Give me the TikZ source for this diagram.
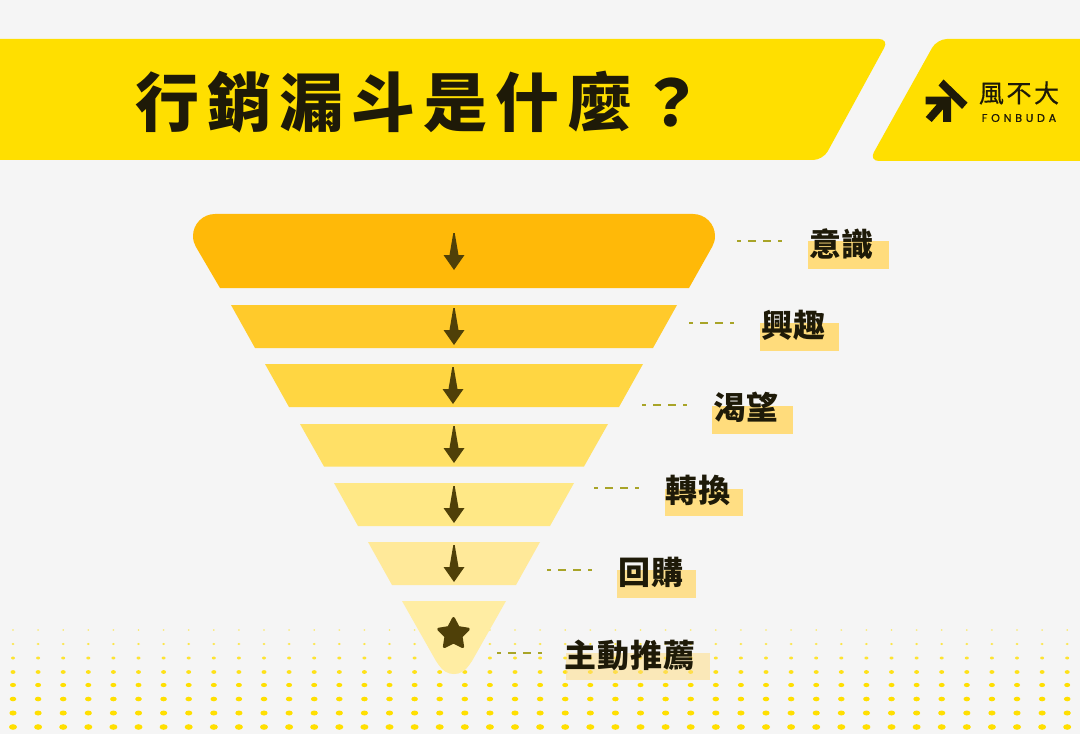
\documentclass[tikz,border=0pt]{standalone}
\usepackage{fontspec}
\usetikzlibrary{shapes.geometric}
\setmainfont{Noto Sans CJK TC}
\newfontfamily\titlefont[LetterSpace=12.5]{Noto Sans CJK TC}
\newfontfamily\labelfont[LetterSpace=3]{Noto Sans CJK TC}
\newfontfamily\logofont[LetterSpace=10,FakeBold=0.4]{Noto Sans CJK TC}
\newfontfamily\latinfont[LetterSpace=33,FakeBold=0.5]{Poppins}
\definecolor{bgc}{HTML}{F5F5F5}
\definecolor{yel}{HTML}{FFDF00}
\definecolor{ink}{HTML}{1E1A08}
\definecolor{arrowc}{HTML}{4F4008}
\definecolor{dashc}{HTML}{A8A428}
\definecolor{hl}{HTML}{FFDC7C}
\definecolor{fa}{HTML}{FFB908}
\definecolor{fb}{HTML}{FFCA2B}
\definecolor{fc}{HTML}{FFD642}
\definecolor{fd}{HTML}{FFE066}
\definecolor{fe}{HTML}{FFE886}
\definecolor{ff}{HTML}{FFE999}
\definecolor{fg}{HTML}{FFEDA3}
\tikzset{
  x=0.75pt,y=-0.75pt,
  lab/.style={font=\labelfont\bfseries\fontsize{24}{24}\selectfont,text=ink,inner sep=0pt,anchor=center},
  lead/.style={draw=dashc,line width=1.3pt,dash pattern=on 6pt off 5.25pt,dash phase=3pt},
  funnelarrow/.pic={\fill[arrowc] (-0.7,0) -- (0.7,0) -- (4.5,22) -- (10.5,22) -- (0,37) -- (-10.5,22) -- (-4.5,22) -- cycle;}
}
\begin{document}
\begin{tikzpicture}
\useasboundingbox (0,0) rectangle (1080,734);
\fill[bgc] (0,0) rectangle (1080,734);
% dot field
\foreach \yy/\rx/\ry/\op in {630/1/0.8/0.6,644/1.5/1.1/0.7,658/2/1.5/0.8,672/2.5/1.9/0.9,685/3/2.1/1,699/3.3/2.3/1,713/3.6/2.5/1,727/4/2.8/1}{
  \foreach \k in {0,...,42}{
    \fill[yel,opacity=\op] ({13+25.1*\k},\yy) ellipse [x radius=\rx*0.75pt,y radius=\ry*0.75pt];
  }
}
% header
\fill[yel,rounded corners=7.5pt] (-30,39) -- (889,39) -- (823,160) -- (-30,160) -- cycle;
\fill[yel,rounded corners=7.5pt] (937,39) -- (1110,39) -- (1110,161) -- (869,161) -- cycle;
\node[font=\titlefont\bfseries\fontsize{48}{50}\selectfont,text=ink,inner sep=0pt] (title) at (419.5,102) {行銷漏斗是什麼？};
% logo
\fill[ink] (943.5,79.5) -- (967.5,102.7) -- (962,109) -- (938.5,85.5) -- cycle;
\fill[ink] (925.7,96.7) -- (951,96.7) -- (951,122) -- (943,122) -- (943,109.3) -- (931.7,122) -- (925.7,117) -- (936.7,104.5) -- (925.7,104.5) -- cycle;
\node[font=\logofont\fontsize{18.8}{19}\selectfont,text=ink,inner sep=0pt] (logocn) at (1019,93) {風不大};
\node[font=\latinfont\fontsize{8.4}{8}\selectfont,text=ink,inner sep=0pt] (logoen) at (1019,118) {FONBUDA};
% funnel
\fill[fa] (220,288) -- (195.8,246.7) .. controls (194,243.5) and (193,240) .. (193,236) .. controls (193,223.9) and (202.9,214) .. (215,214) -- (693,214) .. controls (705.1,214) and (715,223.9) .. (715,236) .. controls (715,240) and (714,243.5) .. (712.2,246.7) -- (689,288) -- cycle;
\fill[fb] (231,305) -- (677,305) -- (653,348) -- (255,348) -- cycle;
\fill[fc] (265,364) -- (643,364) -- (619,407) -- (289,407) -- cycle;
\fill[fd] (300,424) -- (608,424) -- (584,466.5) -- (324,466.5) -- cycle;
\fill[fe] (334,483) -- (574,483) -- (550,526) -- (358,526) -- cycle;
\fill[ff] (368,542) -- (540,542) -- (516,585) -- (392,585) -- cycle;
\fill[fg] (402,601) -- (506,601) -- (472,661) .. controls (465,672) and (460,674) .. (454,674) .. controls (448,674) and (443,672) .. (436,661) -- cycle;
% arrows
\pic at (454,233) {funnelarrow};
\pic at (454,308) {funnelarrow};
\pic at (453,367) {funnelarrow};
\pic at (454,426) {funnelarrow};
\pic at (454,486) {funnelarrow};
\pic at (454,545) {funnelarrow};
\node[star,star points=5,star point ratio=1.95,minimum size=23.25pt,inner sep=0pt,fill=arrowc,draw=arrowc,line width=2.25pt,line join=round] (starmark) at (453.5,634) {};
% highlights
\fill[hl] (808,241) rectangle (889,269);
\fill[hl] (760,323) rectangle (839,351);
\fill[hl] (712,406) rectangle (793,434);
\fill[hl!95!white] (665,489) rectangle (743,516);
\fill[hl,opacity=.85] (617,570) rectangle (696,598);
\fill[hl,opacity=.5] (566,653) rectangle (710,680);
% labels
\node[lab] (l1) at (841.5,244) {意識};
\node[lab] (l2) at (793.5,325) {興趣};
\node[lab] (l3) at (746,407) {渴望};
\node[lab] (l4) at (698,490) {轉換};
\node[lab] (l5) at (651,572) {回購};
\node[lab] (l6) at (630,655) {主動推薦};
% leaders
\coordinate (d1a) at (737,241); \coordinate (d1b) at (782,241);
\coordinate (d2a) at (689,323); \coordinate (d2b) at (734,323);
\coordinate (d3a) at (642,405); \coordinate (d3b) at (687,405);
\coordinate (d4a) at (594,488); \coordinate (d4b) at (639,488);
\coordinate (d5a) at (547,570); \coordinate (d5b) at (592,570);
\coordinate (d6a) at (497,653); \coordinate (d6b) at (542,653);
\draw[lead] (d1a) -- (d1b);
\draw[lead] (d2a) -- (d2b);
\draw[lead] (d3a) -- (d3b);
\draw[lead] (d4a) -- (d4b);
\draw[lead] (d5a) -- (d5b);
\draw[lead] (d6a) -- (d6b);
\end{tikzpicture}
\end{document}
